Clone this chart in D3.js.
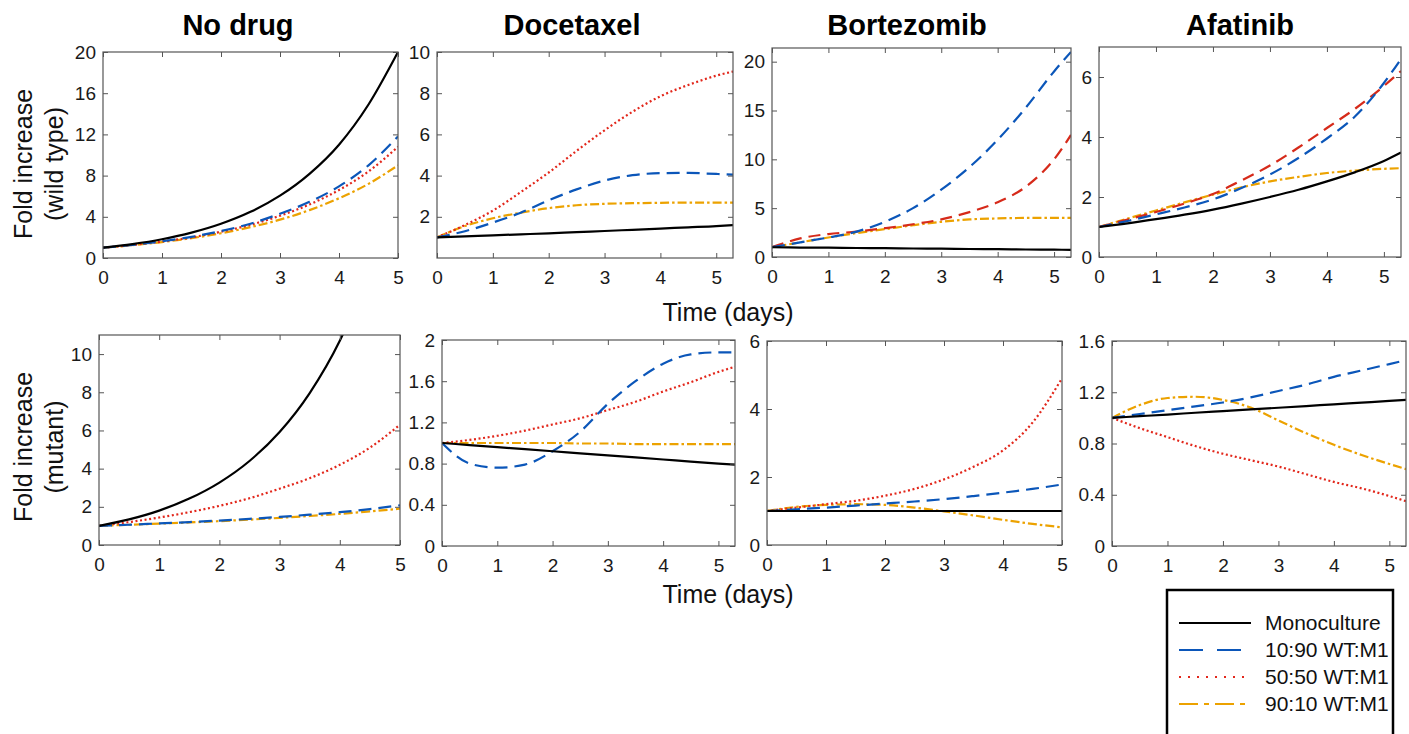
<!DOCTYPE html>
<html>
<head>
<meta charset="utf-8">
<script src="https://cdn.jsdelivr.net/npm/d3@7"></script>
<style>
  body { margin: 0; background: #fff; }
  svg { font-family: "Liberation Sans", Arial, Helvetica, sans-serif; }
  .tick text { font-family: "Liberation Sans", Arial, Helvetica, sans-serif; font-size: 19px; fill: #1a1a1a; }
  .tick line { stroke: #555; }
</style>
</head>
<body>
<div id="chart"></div>
<script>
// time points (days)
const tA = [0, 0.5, 1, 1.5, 2, 2.5, 3, 3.5, 4, 4.5, 5];
const tB = [0, 0.5, 1, 1.5, 2, 2.5, 3, 3.5, 4, 4.5, 5, 5.3];

const drugs = ["No drug", "Docetaxel", "Bortezomib", "Afatinib"];
const seriesNames = ["Monoculture", "10:90 WT:M1", "50:50 WT:M1", "90:10 WT:M1"];

// each panel: [monoculture, 10:90, 50:50, 90:10]
const wtNoDrug = [
  [1, 1.35, 1.82, 2.46, 3.32, 4.48, 6.05, 8.17, 11.0, 14.9, 20.0],
  [1, 1.27, 1.62, 2.05, 2.62, 3.33, 4.3, 5.45, 6.95, 9.0, 11.8],
  [1, 1.26, 1.6, 2.0, 2.55, 3.22, 4.1, 5.2, 6.6, 8.4, 10.8],
  [1, 1.24, 1.55, 1.93, 2.4, 3.0, 3.72, 4.65, 5.8, 7.2, 9.0]
];
const wtDocetaxel = [
  [1, 1.05, 1.1, 1.15, 1.2, 1.26, 1.31, 1.37, 1.43, 1.49, 1.55, 1.6],
  [1, 1.3, 1.72, 2.2, 2.8, 3.33, 3.76, 4.02, 4.12, 4.13, 4.08, 4.05],
  [1, 1.6, 2.3, 3.2, 4.15, 5.2, 6.2, 7.1, 7.85, 8.4, 8.85, 9.05],
  [1, 1.55, 1.93, 2.2, 2.42, 2.56, 2.63, 2.66, 2.68, 2.69, 2.69, 2.69]
];
const wtBortezomib = [
  [1, 0.97, 0.95, 0.92, 0.9, 0.87, 0.85, 0.82, 0.8, 0.77, 0.75, 0.73],
  [1, 1.5, 2.0, 2.6, 3.6, 5.0, 6.9, 9.2, 12.0, 15.3, 19.0, 21.0],
  [1, 1.9, 2.35, 2.6, 2.95, 3.35, 3.85, 4.6, 5.6, 7.2, 10.0, 12.5],
  [1, 1.5, 2.0, 2.45, 2.85, 3.25, 3.6, 3.85, 3.95, 4.0, 4.0, 4.0]
];
const wtAfatinib = [
  [1, 1.12, 1.26, 1.41, 1.58, 1.78, 2.0, 2.24, 2.52, 2.83, 3.2, 3.48],
  [1, 1.2, 1.42, 1.65, 1.92, 2.3, 2.75, 3.3, 3.95, 4.7, 5.8, 6.6],
  [1, 1.25, 1.5, 1.78, 2.1, 2.55, 3.05, 3.65, 4.3, 4.95, 5.7, 6.2],
  [1, 1.28, 1.55, 1.82, 2.08, 2.32, 2.52, 2.67, 2.8, 2.88, 2.94, 2.96]
];
const mutNoDrug = [
  [1, 1.34, 1.8, 2.43, 3.27, 4.4, 5.92, 7.96, 10.7, 14.4, 19.4],
  [1, 1.06, 1.13, 1.2, 1.28, 1.37, 1.47, 1.59, 1.72, 1.88, 2.08],
  [1, 1.2, 1.44, 1.72, 2.05, 2.45, 2.95, 3.5, 4.2, 5.1, 6.3],
  [1, 1.06, 1.12, 1.18, 1.25, 1.33, 1.42, 1.52, 1.63, 1.76, 1.9]
];
const mutDocetaxel = [
  [1, 0.98, 0.96, 0.94, 0.92, 0.9, 0.88, 0.86, 0.84, 0.82, 0.8, 0.79],
  [1, 0.8, 0.76, 0.79, 0.92, 1.11, 1.38, 1.6, 1.77, 1.86, 1.88, 1.88],
  [1, 1.03, 1.07, 1.12, 1.18, 1.24, 1.32, 1.4, 1.5, 1.59, 1.69, 1.74],
  [1, 1, 1, 1, 1, 0.995, 0.995, 0.99, 0.99, 0.99, 0.99, 0.99]
];
const mutBortezomib = [
  [1, 1, 1, 1, 1, 1, 1, 1, 1, 1, 1],
  [1, 1.05, 1.1, 1.16, 1.22, 1.28, 1.35, 1.44, 1.54, 1.65, 1.78],
  [1, 1.1, 1.2, 1.3, 1.45, 1.65, 1.93, 2.3, 2.78, 3.6, 4.9],
  [1, 1.12, 1.18, 1.2, 1.18, 1.1, 0.99, 0.87, 0.74, 0.62, 0.52]
];
const mutAfatinib = [
  [1, 1.013, 1.026, 1.04, 1.053, 1.066, 1.079, 1.092, 1.106, 1.119, 1.132, 1.14],
  [1, 1.03, 1.06, 1.09, 1.12, 1.16, 1.21, 1.26, 1.32, 1.37, 1.42, 1.45],
  [1, 0.92, 0.85, 0.78, 0.72, 0.67, 0.62, 0.56, 0.5, 0.45, 0.39, 0.35],
  [1, 1.1, 1.155, 1.165, 1.14, 1.08, 0.98, 0.88, 0.79, 0.71, 0.64, 0.6]
];

// tick labels
const xTicks = [0, 1, 2, 3, 4, 5];
const yTicksWtNoDrug = [0, 4, 8, 12, 16, 20];
const yTicksWtDocetaxel = [2, 4, 6, 8, 10];
const yTicksWtBortezomib = [0, 5, 10, 15, 20];
const yTicksWtAfatinib = [0, 2, 4, 6];
const yTicksMutNoDrug = [0, 2, 4, 6, 8, 10];
const yTicksMutDocetaxel = [0, 0.4, 0.8, 1.2, 1.6, 2];
const yTicksMutBortezomib = [0, 2, 4, 6];
const yTicksMutAfatinib = [0, 0.4, 0.8, 1.2, 1.6];

const width = 1409, height = 734;

const colors = ["#000000", "#0b56b9", "#e2271b", "#eca200"];
const dashes = [null, "13,7", "2,2.6", "9,3,2.5,3"];

// panel boxes [left, top, right, bottom]
const panels = [
  { box: [103, 52, 398, 258], t: tA, xMax: 5, yMax: 20, yTicks: yTicksWtNoDrug, data: wtNoDrug, title: drugs[0], titleX: 238 },
  { box: [437, 52, 733, 258], t: tB, xMax: 5.3, yMax: 10, yTicks: yTicksWtDocetaxel, data: wtDocetaxel, title: drugs[1], titleX: 572 },
  { box: [772, 48, 1071, 257], t: tB, xMax: 5.3, yMax: 21.4, yTicks: yTicksWtBortezomib, data: wtBortezomib, title: drugs[2], titleX: 907, redDash: true },
  { box: [1099, 47, 1401, 257], t: tB, xMax: 5.3, yMax: 7, yTicks: yTicksWtAfatinib, data: wtAfatinib, title: drugs[3], titleX: 1240, redDash: true },
  { box: [99, 335, 400, 545], t: tA, xMax: 5, yMax: 11, yTicks: yTicksMutNoDrug, data: mutNoDrug },
  { box: [442, 340, 735, 546], t: tB, xMax: 5.3, yMax: 2, yTicks: yTicksMutDocetaxel, data: mutDocetaxel },
  { box: [767, 341, 1062, 545], t: tA, xMax: 5, yMax: 6, yTicks: yTicksMutBortezomib, data: mutBortezomib },
  { box: [1112, 341, 1406, 546], t: tB, xMax: 5.3, yMax: 1.6, yTicks: yTicksMutAfatinib, data: mutAfatinib }
];

const svg = d3.select("#chart").append("svg")
  .attr("width", width)
  .attr("height", height);

svg.append("rect").attr("width", width).attr("height", height).attr("fill", "#fff");

panels.forEach((p, i) => {
  const [l, t, r, b] = p.box;
  const w = r - l, h = b - t;
  const x = d3.scaleLinear().domain([0, p.xMax]).range([0, w]);
  const y = d3.scaleLinear().domain([0, p.yMax]).range([h, 0]);

  const g = svg.append("g").attr("transform", `translate(${l},${t})`);

  g.append("clipPath").attr("id", "clip" + i)
    .append("rect").attr("width", w).attr("height", h);

  const line = d3.line()
    .x((d, k) => x(p.t[k]))
    .y(d => y(d))
    .curve(d3.curveMonotoneX);

  const lines = g.append("g").attr("clip-path", `url(#clip${i})`);
  // draw in reverse so monoculture sits on top
  [3, 2, 1, 0].forEach(s => {
    let dash = dashes[s];
    let col = colors[s];
    if (s === 2 && p.redDash) { dash = "12,7"; col = "#d62a1a"; }
    lines.append("path")
      .datum(p.data[s])
      .attr("d", line)
      .attr("fill", "none")
      .attr("stroke", col)
      .attr("stroke-width", 2.2)
      .attr("stroke-dasharray", dash);
  });

  const fmt = d => String(d);

  // axes, ticks pointing inward on all four sides
  g.append("g").attr("transform", `translate(0,${h})`)
    .call(d3.axisBottom(x).tickValues(xTicks).tickSize(-5).tickSizeOuter(0).tickPadding(13).tickFormat(fmt))
    .call(a => a.select(".domain").remove());
  g.append("g")
    .call(d3.axisTop(x).tickValues(xTicks).tickSize(-5).tickSizeOuter(0).tickFormat(""))
    .call(a => a.select(".domain").remove());
  g.append("g")
    .call(d3.axisLeft(y).tickValues(p.yTicks).tickSize(-5).tickSizeOuter(0).tickPadding(7).tickFormat(fmt))
    .call(a => a.select(".domain").remove());
  g.append("g").attr("transform", `translate(${w},0)`)
    .call(d3.axisRight(y).tickValues(p.yTicks).tickSize(-5).tickSizeOuter(0).tickFormat(""))
    .call(a => a.select(".domain").remove());

  g.append("rect")
    .attr("width", w).attr("height", h)
    .attr("fill", "none")
    .attr("stroke", "#555")
    .attr("stroke-width", 1.2);

  if (p.title) {
    svg.append("text")
      .attr("x", p.titleX).attr("y", 35)
      .attr("text-anchor", "middle")
      .attr("font-size", 29).attr("font-weight", "bold")
      .attr("fill", "#000")
      .text(p.title);
  }
});

// row labels
const rowLabels = [["Fold increase", "(wild type)", 164], ["Fold increase", "(mutant)", 447]];
rowLabels.forEach(([a, b, cy]) => {
  svg.append("text")
    .attr("transform", `translate(32,${cy}) rotate(-90)`)
    .attr("text-anchor", "middle").attr("font-size", 25).attr("fill", "#111")
    .text(a);
  svg.append("text")
    .attr("transform", `translate(63,${cy}) rotate(-90)`)
    .attr("text-anchor", "middle").attr("font-size", 25).attr("fill", "#111")
    .text(b);
});

[321, 603].forEach(yy => {
  svg.append("text")
    .attr("x", 728).attr("y", yy)
    .attr("text-anchor", "middle").attr("font-size", 25).attr("fill", "#111")
    .text("Time (days)");
});

// legend
const legend = svg.append("g");
legend.append("rect")
  .attr("x", 1167).attr("y", 590).attr("width", 226).attr("height", 170)
  .attr("fill", "#fff").attr("stroke", "#000").attr("stroke-width", 2.5);

const legendDashes = [null, "24,14", "2,7", "19,6,5,6"];
seriesNames.forEach((name, s) => {
  const yy = 623 + s * 27;
  legend.append("line")
    .attr("x1", 1179).attr("x2", 1251).attr("y1", yy).attr("y2", yy)
    .attr("stroke", colors[s]).attr("stroke-width", 2)
    .attr("stroke-dasharray", legendDashes[s]);
  legend.append("text")
    .attr("x", 1265).attr("y", yy + 7)
    .attr("font-size", 21).attr("fill", "#111")
    .text(name);
});
</script>
</body>
</html>
